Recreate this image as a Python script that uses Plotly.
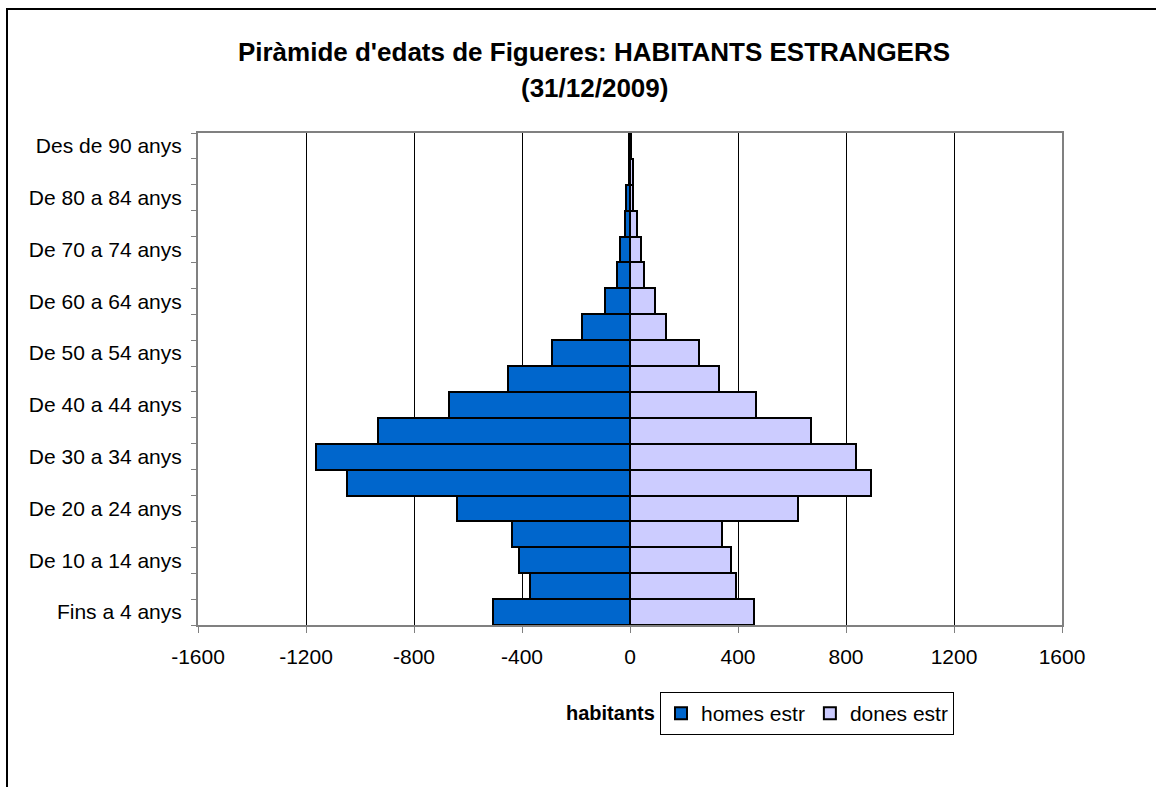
import plotly.graph_objects as go

categories = ["Fins a 4 anys", "De 5 a 9 anys", "De 10 a 14 anys", "De 15 a 19 anys",
              "De 20 a 24 anys", "De 25 a 29 anys", "De 30 a 34 anys", "De 35 a 39 anys",
              "De 40 a 44 anys", "De 45 a 49 anys", "De 50 a 54 anys", "De 55 a 59 anys",
              "De 60 a 64 anys", "De 65 a 69 anys", "De 70 a 74 anys", "De 75 a 79 anys",
              "De 80 a 84 anys", "De 85 a 89 anys", "Des de 90 anys"]
shown_labels = ["Fins a 4 anys", "De 10 a 14 anys", "De 20 a 24 anys", "De 30 a 34 anys",
                "De 40 a 44 anys", "De 50 a 54 anys", "De 60 a 64 anys", "De 70 a 74 anys",
                "De 80 a 84 anys", "Des de 90 anys"]
homes = [-506, -372, -410, -438, -641, -1050, -1163, -935, -669, -451,
         -288, -177, -91, -49, -36, -19, -14, -4, -3]
dones = [458, 391, 373, 342, 621, 894, 838, 671, 465, 331,
         256, 133, 93, 50, 42, 27, 10, 10, 5]
x_ticks = [-1600, -1200, -800, -400, 0, 400, 800, 1200, 1600]

FONT = "Liberation Sans, Arial, sans-serif"

W, H = 1156, 787
PL, PR, PT, PB = 198, 1062, 133, 625
PW, PH = PR - PL, PB - PT


def px(x):
    return (x - PL) / PW


def py(y):
    return (PB - y) / PH


fig = go.Figure()
fig.add_trace(go.Bar(y=categories, x=homes, orientation="h", name="homes estr",
                     marker=dict(color="#0066CC", line=dict(color="black", width=2))))
fig.add_trace(go.Bar(y=categories, x=dones, orientation="h", name="dones estr",
                     marker=dict(color="#CCCCFF", line=dict(color="black", width=2))))

ticktext = [c if c in shown_labels else "" for c in categories]

fig.update_layout(
    width=W, height=H,
    margin=dict(l=PL, r=W - PR, t=PT, b=H - PB, pad=0),
    paper_bgcolor="white", plot_bgcolor="white",
    barmode="relative", bargap=0,
    font=dict(family=FONT, color="black", size=20),
    title=dict(text="<b>Piràmide d'edats de Figueres: HABITANTS ESTRANGERS</b>",
               x=594 / W, xanchor="center", xref="container",
               y=1 - 52 / H, yanchor="middle", yref="container",
               font=dict(family=FONT, size=26, color="black")),
    xaxis=dict(range=[-1600, 1600], tickvals=x_ticks, ticktext=[str(v) for v in x_ticks],
               showgrid=True, gridcolor="black", gridwidth=1, zeroline=False,
               showline=True, linecolor="#808080", linewidth=2, mirror=True,
               ticks="outside", ticklen=6, tickcolor="#808080", tickwidth=1,
               ticklabelstandoff=6,
               tickfont=dict(size=21), fixedrange=True),
    yaxis=dict(type="category", categoryorder="array", categoryarray=categories,
               tickvals=categories, ticktext=ticktext, tickson="boundaries",
               showgrid=False, showline=True, linecolor="#808080", linewidth=2, mirror=True,
               ticks="outside", ticklen=5, tickcolor="#808080", tickwidth=1,
               ticklabelstandoff=10,
               tickfont=dict(size=21), fixedrange=True),
    legend=dict(orientation="h", x=px(660), y=py(692),
                xanchor="left", yanchor="top", bordercolor="black", borderwidth=1,
                font=dict(size=21), traceorder="normal",
                bgcolor="white"),
    showlegend=True,
)

fig.add_annotation(text="<b>(31/12/2009)</b>", xref="paper", yref="paper",
                   x=px(594), y=py(88), showarrow=False,
                   xanchor="center", yanchor="middle",
                   font=dict(family=FONT, size=26, color="black"))
fig.add_annotation(text="<b>habitants</b>", xref="paper", yref="paper",
                   x=px(657), y=py(713), showarrow=False,
                   xanchor="right", yanchor="middle",
                   font=dict(family=FONT, size=20, color="black"))
fig.add_shape(type="rect", xref="paper", yref="paper",
              x0=px(7), x1=1.3, y0=-0.5, y1=py(9),
              line=dict(color="black", width=2), fillcolor="rgba(0,0,0,0)", layer="below")

fig.write_html("out.html", config={"displayModeBar": False},
               post_script="document.body.style.margin='0';document.body.style.overflow='hidden';")
